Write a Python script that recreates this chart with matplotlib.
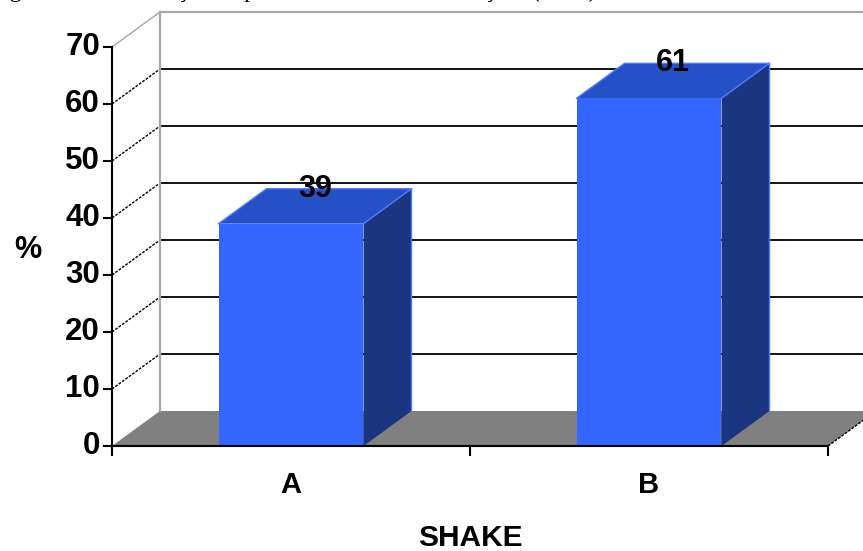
import numpy as np
import matplotlib
matplotlib.use("Agg")
import matplotlib.pyplot as plt
from matplotlib.patches import Polygon
from matplotlib.lines import Line2D

# Data
categories = ["A", "B"]
values = [39, 61]
y_ticks = [0, 10, 20, 30, 40, 50, 60, 70]
x_title = "SHAKE"
y_title = "%"
caption = "Figura 5 \u2013 Distribui\u00e7\u00e3o da prefer\u00eancia entre formula\u00e7\u00f5es (n=30)"

# Colours of the 3-D column chart
FRONT = "#3366FF"
TOP = "#2650C6"
SIDE = "#1B3680"
EDGE = "#4F7BFF"
FLOOR = "#808080"
WALL_EDGE = "#A6A6A6"

W, H, DPI = 863, 551, 100
DEPTH_PX = (48, 35)           # depth offset of the back plane (display pixels, y up)
BAR_W = 0.405

fig = plt.figure(figsize=(W / DPI, H / DPI), dpi=DPI)
ax = fig.add_axes([112 / W, (H - 446) / H, (828 - 112) / W, (446 - 47) / H])
ax.set_xlim(0, len(categories))
ax.set_ylim(0, 70)
ax.axis("off")
fig.canvas.draw()

FONT = "Liberation Sans"


def back(x, y):
    """Point on the back plane behind data point (x, y)."""
    px = ax.transData.transform((x, y)) + np.array(DEPTH_PX) * fig.dpi / DPI
    return tuple(ax.transData.inverted().transform(px))


def poly(pts, **kw):
    p = Polygon(pts, closed=True, clip_on=False, **kw)
    ax.add_patch(p)
    return p


def line(xs, ys, **kw):
    ax.add_line(Line2D(xs, ys, clip_on=False, **kw))


xmax = len(categories)
xr = xmax + 0.2  # back wall runs past the right edge

# Floor
poly([(0, 0), (xmax, 0), back(xmax, 0), back(0, 0)], facecolor=FLOOR,
     edgecolor="none", zorder=1)

# Back wall gridlines and left wall diagonals
for t in y_ticks[1:]:
    bx, by = back(0, t)
    top = t == y_ticks[-1]
    col = WALL_EDGE if top else "black"
    line([bx, xr], [by, by], color=col, lw=1.6 if top else 1.3, zorder=2)
    line([0, bx], [t, by], color=col, lw=1.0,
         linestyle="-" if top else (0, (2, 1)), zorder=2)
# Back wall left edge
b0 = back(0, 0)
bt = back(0, y_ticks[-1])
line([b0[0], bt[0]], [b0[1], bt[1]], color=WALL_EDGE, lw=1.6, zorder=2)
# Right floor edge
br = back(xmax, 0)
line([xmax, br[0]], [0, br[1]], color="black", lw=1.0, linestyle=(0, (2, 1)), zorder=2)

# Bars
for i, v in enumerate(values):
    c = i + 0.5
    x0, x1 = c - BAR_W / 2, c + BAR_W / 2
    # side face
    poly([(x1, 0), (x1, v), back(x1, v), back(x1, 0)], facecolor=SIDE,
         edgecolor="none", zorder=3)
    # top face
    poly([(x0, v), (x1, v), back(x1, v), back(x0, v)], facecolor=TOP,
         edgecolor="none", zorder=3)
    # front face
    poly([(x0, 0), (x1, 0), (x1, v), (x0, v)], facecolor=FRONT,
         edgecolor="none", zorder=4)
    # light edges
    bx1v = back(x1, v)
    bx1 = back(x1, 0)
    bx0v = back(x0, v)
    line([x1, bx1v[0], bx1[0]], [v, bx1v[1], bx1[1]], color=EDGE, lw=1.0, zorder=5)
    line([x0, bx0v[0], bx1v[0]], [v, bx0v[1], bx1v[1]], color=EDGE, lw=1.0, zorder=5)
    # value label, centred on the back edge of the top face
    lx, ly = back(c, v)
    mx = (c + lx) / 2
    ax.text(mx, ly, f"{v}", ha="center", va="center", fontsize=22,
            fontweight="bold", family=FONT, color="black", zorder=6)

# Front axes
line([0, xmax], [0, 0], color="black", lw=1.5, zorder=6)
line([0, 0], [0, y_ticks[-1]], color="black", lw=1.5, zorder=6)


def dx_px(px):
    return ax.transData.inverted().transform((ax.transData.transform((0, 0))[0] + px, 0))[0]


def dy_px(px):
    return ax.transData.inverted().transform((0, ax.transData.transform((0, 0))[1] + px))[1]


tl = dx_px(8)
for t in y_ticks:
    line([-tl, 0], [t, t], color="black", lw=1.5, zorder=6)
    ax.text(-dx_px(12), t, str(t), ha="right", va="center", fontsize=22.5,
            fontweight="bold", family=FONT)

tv = dy_px(9)
for xt in range(xmax + 1):
    line([xt, xt], [0, -tv], color="black", lw=1.5, zorder=6)

for i, cat in enumerate(categories):
    ax.text(i + 0.5, -dy_px(39), cat, ha="center", va="center", fontsize=21,
            fontweight="bold", family=FONT)

ax.text(xmax / 2, -dy_px(92), x_title, ha="center", va="center", fontsize=21.5,
        fontweight="bold", family=FONT)
fig.text(28 / W, 1 - 250 / H, y_title, ha="center", va="center", fontsize=22,
         fontweight="bold", family=FONT)

# Caption above the chart area (only its descenders fall inside the image)
fig.text(-10 / W, 1.0 + 2.5 / H, caption, ha="left", va="baseline", fontsize=17,
         family="Liberation Serif")

fig.savefig("out.png", dpi=DPI)
